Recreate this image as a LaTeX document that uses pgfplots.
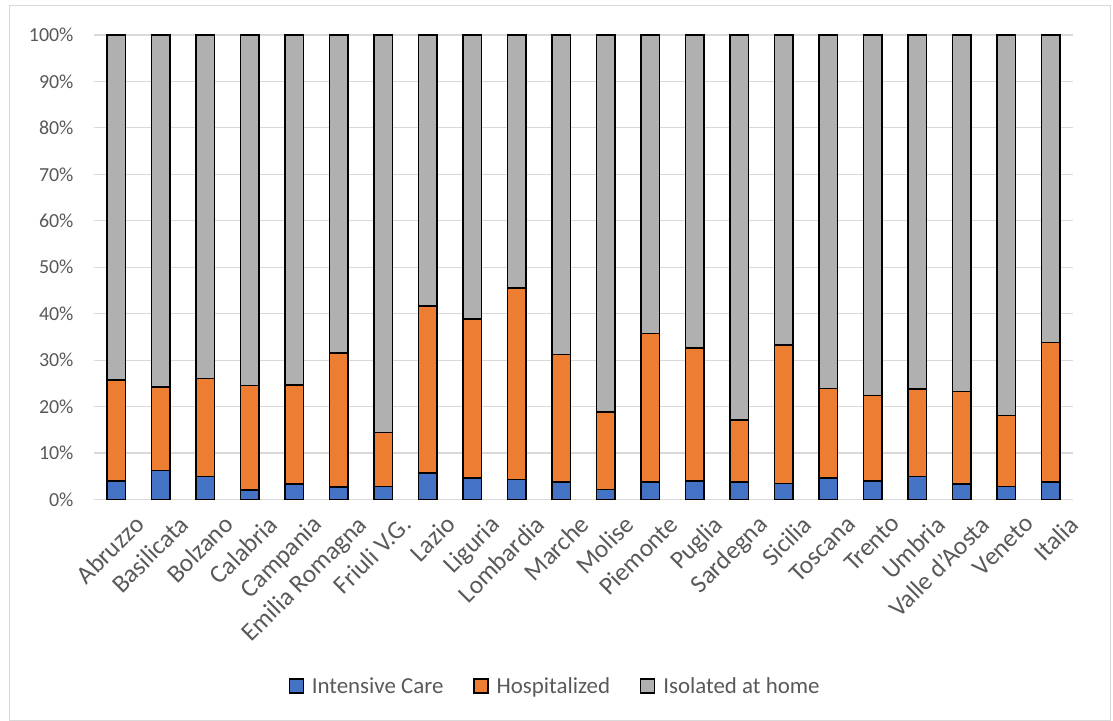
\documentclass[border=0pt]{standalone}
\usepackage{pgfplots}
\pgfplotsset{compat=1.18}
\usepackage{pgfplotstable}
\usepackage{fontspec}
\setmainfont{Carlito}
\definecolor{cblue}{HTML}{4472C4}
\definecolor{corange}{HTML}{ED7D31}
\definecolor{cgray}{HTML}{B0B0B0}
\definecolor{tgray}{HTML}{595959}
\definecolor{gridc}{HTML}{D9D9D9}
\pgfplotstableread{
x ic hosp iso
0 4.0 21.7 74.3
1 6.2 18.0 75.8
2 5.0 21.0 74.0
3 2.0 22.5 75.5
4 3.3 21.4 75.3
5 2.7 28.8 68.5
6 2.8 11.6 85.6
7 5.7 36.0 58.3
8 4.6 34.3 61.1
9 4.3 41.2 54.5
10 3.8 27.4 68.8
11 2.1 16.7 81.2
12 3.8 31.9 64.3
13 4.0 28.6 67.4
14 3.8 13.3 82.9
15 3.4 29.9 66.7
16 4.6 19.3 76.1
17 4.0 18.4 77.6
18 5.0 18.8 76.2
19 3.3 19.9 76.8
20 2.8 15.3 81.9
21 3.8 30.0 66.2
}\datatable
\begin{document}
\begin{tikzpicture}
\useasboundingbox (-94bp,-221.5bp) rectangle (1019bp,499.5bp);
\draw[gridc, line width=1bp] (-84bp,-221bp) rectangle (1016bp,493.5bp);
\begin{axis}[
  at={(0,0)}, anchor=south west,
  scale only axis,
  width=979bp, height=464.5bp,
  ybar stacked,
  bar width=18.5bp,
  xmin=-0.5, xmax=21.5,
  ymin=0, ymax=100,
  xtick=data,
  xticklabels={Abruzzo,Basilicata,Bolzano,Calabria,Campania,Emilia Romagna,Friuli V.G.,Lazio,Liguria,Lombardia,Marche,Molise,Piemonte,Puglia,Sardegna,Sicilia,Toscana,Trento,Umbria,Valle d'Aosta,Veneto,Italia},
  ytick={0,10,...,100},
  yticklabel={\pgfmathprintnumber{\tick}\%},
  /pgf/number format/assume math mode=true,
  ymajorgrids,
  major grid style={draw=gridc, line width=1.2bp},
  axis x line*=bottom,
  axis y line*=left,
  x axis line style={draw=gridc, line width=1.2bp},
  y axis line style={draw=none},
  major tick length=0pt,
  tick style={draw=none},
  ticklabel style={text=tgray},
  yticklabel style={font=\fontsize{20}{24}\selectfont, xshift=-17bp},
  xticklabel style={font=\fontsize{25.5}{30}\selectfont, rotate=45, anchor=north east, inner sep=0bp, xshift=2bp, yshift=-22bp},
  legend style={at={(0.471,-0.4015)}, anchor=center, draw=none, fill=none,
    font=\fontsize{23}{27}\selectfont, text=tgray, legend columns=3,
    /tikz/every odd column/.append style={column sep=6bp},
    /tikz/every even column/.append style={column sep=28bp}},
  legend image code/.code={\draw[#1, line width=1.2bp] (0bp,-7bp) rectangle (14bp,7bp);},
  every axis plot/.append style={draw=black, line width=1.5bp},
  clip=false,
]
\addplot[fill=cblue] table[x=x, y=ic] {\datatable};
\addplot[fill=corange] table[x=x, y=hosp] {\datatable};
\addplot[fill=cgray] table[x=x, y=iso] {\datatable};
\legend{Intensive Care, Hospitalized, Isolated at home}
\end{axis}
\end{tikzpicture}
\end{document}
